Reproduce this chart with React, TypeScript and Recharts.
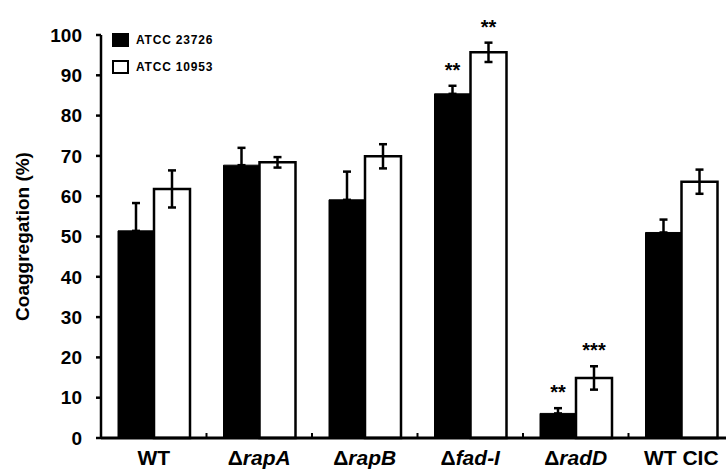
import { Bar, BarChart, ErrorBar, LabelList, Legend, XAxis, YAxis } from "recharts"

const strains = ["WT", "ΔrapA", "ΔrapB", "Δfad-I", "ΔradD", "WT CIC"]
const seriesNames = ["ATCC 23726", "ATCC 10953"]
const atcc23726 = [51.4, 67.7, 59.1, 85.4, 6.1, 51.0]
const atcc23726Err = [6.9, 4.3, 7.0, 2.0, 1.3, 3.2]
const atcc10953 = [61.8, 68.4, 69.9, 95.7, 14.9, 63.6]
const atcc10953Err = [4.6, 1.3, 3.0, 2.4, 2.9, 3.0]
const sig23726 = ["", "", "", "**", "**", ""]
const sig10953 = ["", "", "", "**", "***", ""]
const yTicks = [0, 10, 20, 30, 40, 50, 60, 70, 80, 90, 100]

const FONT = "Arial, 'Liberation Sans', sans-serif"
const CHART_W = 740
const CHART_H = 470
const MARGIN = { top: 35, right: 6, bottom: 0, left: 0 }
const Y_AXIS_W = 101
const X_AXIS_H = 32
const PLOT_TOP = MARGIN.top
const PLOT_BOTTOM = CHART_H - MARGIN.bottom - X_AXIS_H
const PLOT_H = PLOT_BOTTOM - PLOT_TOP
const PLOT_W = CHART_W - MARGIN.left - MARGIN.right - Y_AXIS_W
const BAND = PLOT_W / strains.length
const PX_PER_UNIT = PLOT_H / 100

const rows = strains.map((name, i) => ({
  name,
  a: atcc23726[i],
  // black bars only show the upper whisker
  errA: [0, atcc23726Err[i]],
  sigA: sig23726[i],
  b: atcc10953[i],
  errB: atcc10953Err[i],
  sigB: sig10953[i],
}))

function StrainTick(props: any) {
  const { x, payload, index } = props
  const name = String(payload.value)
  const bx = x - BAND / 2
  return (
    <g>
      {index > 0 && (
        <line x1={bx} x2={bx} y1={PLOT_BOTTOM - 5} y2={PLOT_BOTTOM} stroke="#000" strokeWidth={2} />
      )}
      <text
        x={x}
        y={PLOT_BOTTOM + 27}
        textAnchor="middle"
        fontFamily={FONT}
        fontWeight="bold"
        fontSize={21}
        fill="#000"
      >
        {name.startsWith("Δ") ? (
          <>
            <tspan>Δ</tspan>
            <tspan fontStyle="italic">{name.slice(1)}</tspan>
          </>
        ) : (
          name
        )}
      </text>
    </g>
  )
}

function YTitle(props: any) {
  const vb = props.viewBox || {}
  const cy = (vb.y ?? PLOT_TOP) + (vb.height ?? PLOT_H) / 2
  return (
    <text
      transform={`translate(29, ${cy}) rotate(-90)`}
      textAnchor="middle"
      fontFamily={FONT}
      fontWeight="bold"
      fontSize={19}
      fill="#000"
    >
      Coaggregation (%)
    </text>
  )
}

function stars(errs: number[]) {
  return (props: any) => {
    const { x, y, width, value, index } = props
    if (!value) return null
    const top = Number(y) - errs[index] * PX_PER_UNIT
    return (
      <text
        x={Number(x) + Number(width) / 2}
        y={top - 9}
        textAnchor="middle"
        fontFamily={FONT}
        fontWeight="bold"
        fontSize={20}
        fill="#000"
      >
        {value}
      </text>
    )
  }
}

function SeriesKey(props: any) {
  const items = [...(props.payload || [])].sort(
    (p: any, q: any) => seriesNames.indexOf(p.value) - seriesNames.indexOf(q.value)
  )
  return (
    <div style={{ fontFamily: FONT }}>
      {items.map((it: any) => (
        <div key={it.value} style={{ display: "flex", alignItems: "center", height: 27 }}>
          <span
            style={{
              display: "inline-block",
              width: 17,
              height: 14,
              boxSizing: "border-box",
              border: "2px solid #000",
              background: it.color,
              marginRight: 7,
            }}
          />
          <span style={{ fontSize: 12, fontWeight: "bold", letterSpacing: 0.8, color: "#000" }}>
            {it.value}
          </span>
        </div>
      ))}
    </div>
  )
}

export default function App() {
  return (
    <div
      style={{
        position: "fixed",
        left: 0,
        top: 0,
        width: 726,
        height: 470,
        overflow: "hidden",
        background: "#fff",
      }}
    >
      <BarChart
        width={CHART_W}
        height={CHART_H}
        data={rows}
        margin={MARGIN}
        barCategoryGap={17}
        barGap={0}
      >
        <XAxis
          dataKey="name"
          height={X_AXIS_H}
          tickLine={false}
          axisLine={{ stroke: "#000", strokeWidth: 3 }}
          tick={<StrainTick />}
          interval={0}
        />
        <YAxis
          width={Y_AXIS_W}
          domain={[0, 100]}
          ticks={yTicks}
          tickSize={5}
          tickMargin={14}
          tickLine={{ stroke: "#000", strokeWidth: 2.5 }}
          axisLine={{ stroke: "#000", strokeWidth: 2.5 }}
          tick={{ fill: "#000", fontSize: 19, fontWeight: "bold", fontFamily: FONT }}
          label={<YTitle />}
        />
        <Legend
          layout="vertical"
          align="center"
          verticalAlign="middle"
          wrapperStyle={{ left: 112, top: 26, width: "auto" }}
          content={<SeriesKey />}
        />
        <Bar dataKey="a" name={seriesNames[0]} fill="#000" stroke="#000" strokeWidth={1} isAnimationActive={false}>
          <ErrorBar dataKey="errA" width={4} strokeWidth={2.5} stroke="#000" direction="y" isAnimationActive={false} />
          <LabelList dataKey="sigA" content={stars(atcc23726Err)} />
        </Bar>
        <Bar dataKey="b" name={seriesNames[1]} fill="#fff" stroke="#000" strokeWidth={2.5} isAnimationActive={false}>
          <ErrorBar dataKey="errB" width={4} strokeWidth={2.5} stroke="#000" direction="y" isAnimationActive={false} />
          <LabelList dataKey="sigB" content={stars(atcc10953Err)} />
        </Bar>
      </BarChart>
    </div>
  )
}
